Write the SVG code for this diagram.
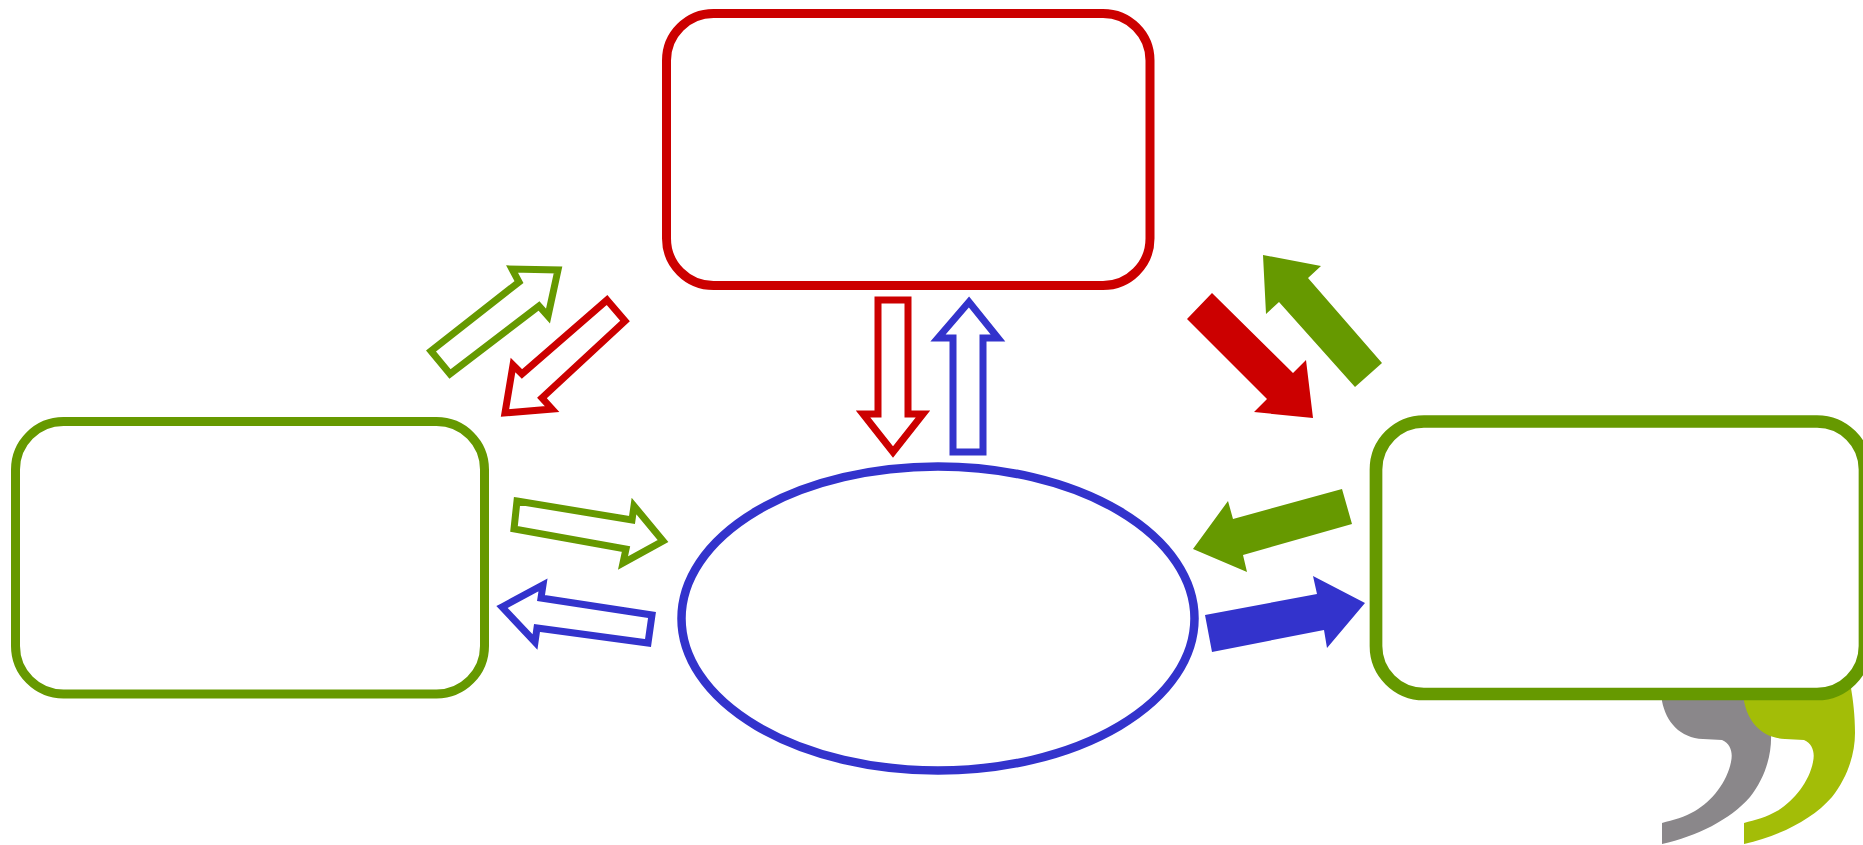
<svg xmlns="http://www.w3.org/2000/svg" width="1863" height="845" viewBox="0 0 1863 845">
<style>
.node{fill:#fff}
.open{fill:#fff;stroke-width:7;stroke-linejoin:miter;stroke-miterlimit:10}
.red{stroke:#cc0000}.green{stroke:#669900}.blue{stroke:#3333cc}
.fr{fill:#cc0000}.fg{fill:#669900}.fb{fill:#3333cc}
</style>
<rect width="1863" height="845" fill="#fff"/>
<g id="logo">
<path fill="#8a878a" d="M1662 695L1662 701C1666 722 1680 738 1703 739L1722 740C1731 744 1733 753 1731 762C1727 782 1712 801 1695 811C1685 817 1673 820 1662 823V844C1697 836 1730 820 1750 797C1765 778 1772 755 1771 733L1768 695Z"/>
<path fill="#a3bd07" d="M1744 695L1744 701C1748 722 1762 738 1785 739L1804 740C1813 744 1815 753 1813 762C1809 782 1794 801 1777 811C1767 817 1755 820 1744 823V844C1779 836 1812 820 1832 797C1847 778 1855 755 1855 733C1855 715 1853 700 1851 688Z"/>
</g>
<g id="node-top"><rect class="node red" x="666.500" y="13.500" width="483.500" height="272" rx="47" ry="47" stroke-width="9"/></g>
<g id="node-left"><rect class="node green" x="15.500" y="421.500" width="469" height="272.500" rx="48" ry="48" stroke-width="9"/></g>
<g id="node-right"><rect class="node green" x="1376" y="421.500" width="489" height="272.500" rx="48" ry="48" stroke-width="12.700"/></g>
<g id="node-center"><ellipse class="node blue" cx="938" cy="618.500" rx="256.500" ry="152" stroke-width="8.500"/></g>
<g id="connectors">
<polygon class="open green" points="431,351 519,282 512,269 558,270 548,316 539,306 450,374"/>
<polygon class="open red" points="607,300 625,321 542,398 552,409 505,413 513,365 522,374"/>
<polygon class="open green" points="517,501 632,520 634,506 663,541 623,563 626,549 514,529"/>
<polygon class="open blue" points="502,607 543,585 541,598 652,615 648,643 537,628 535,642"/>
<polygon class="open red" points="878,300 908,300 908,414 923,414 893,452 863,414 878,414"/>
<polygon class="open blue" points="969,302 998,338 983,338 983,452 953,452 953,338 938,338"/>
<polygon class="fr" points="1212,293 1187,319 1267,399 1254,412 1313,418 1306,360 1293,373"/>
<polygon class="fg" points="1263,255 1321,266 1308,278 1382,363 1355,387 1279,302 1266,314"/>
<polygon class="fg" points="1342,489 1352,524 1243,555 1247,572 1193,549 1228,501 1233,519"/>
<polygon class="fb" points="1205,615 1212,652 1324,630 1327,648 1365,603 1313,576 1317,594"/>
</g>
</svg>
